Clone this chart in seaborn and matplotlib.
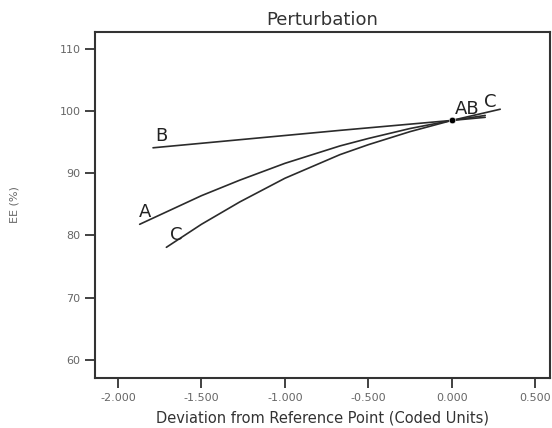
import numpy as np
import pandas as pd
import matplotlib
matplotlib.use("Agg")
import matplotlib.pyplot as plt
import seaborn as sns

# perturbation traces (coded units vs EE %)
a_x = [-1.87, -1.5, -1.27, -1.0, -0.67, -0.5, -0.25, 0.0, 0.2]
a_y = [81.8, 86.4, 88.9, 91.6, 94.4, 95.6, 97.2, 98.5, 99.3]
b_x = [-1.79, -1.27, -0.67, 0.0, 0.2]
b_y = [94.1, 95.4, 96.9, 98.5, 99.0]
c_x = [-1.71, -1.5, -1.27, -1.0, -0.67, -0.5, -0.25, 0.0, 0.29]
c_y = [78.1, 81.8, 85.4, 89.2, 93.0, 94.6, 96.7, 98.5, 100.3]
ref_x = [0.0]
ref_y = [98.5]

xticks = [-2.0, -1.5, -1.0, -0.5, 0.0, 0.5]
yticks = [60, 70, 80, 90, 100, 110]

df = pd.concat([
    pd.DataFrame({"x": a_x, "y": a_y, "factor": "A"}),
    pd.DataFrame({"x": b_x, "y": b_y, "factor": "B"}),
    pd.DataFrame({"x": c_x, "y": c_y, "factor": "C"}),
])

sns.set_style("ticks")
plt.rcParams['font.family'] = ['DejaVu Sans']

fig = plt.figure(figsize=(5.52, 4.28), dpi=100)
ax = fig.add_axes([0.172, 0.117, 0.824, 0.808])

sns.lineplot(data=df, x="x", y="y", units="factor", estimator=None, sort=False,
             color="#2b2b2b", linewidth=1.2, ax=ax)
sns.scatterplot(x=ref_x, y=ref_y, color="black", s=22, zorder=5, ax=ax)

# curve labels
ax.text(-1.74, 94.6, "B", fontsize=13, color="#222222", va="bottom", ha="center")
ax.text(-1.84, 82.3, "A", fontsize=13, color="#222222", va="bottom", ha="center")
ax.text(-1.65, 78.6, "C", fontsize=13, color="#222222", va="bottom", ha="center")
ax.text(0.09, 98.9, "AB", fontsize=13, color="#222222", va="bottom", ha="center")
ax.text(0.23, 100.0, "C", fontsize=13, color="#222222", va="bottom", ha="center")

ax.set_xlim(-2.138, 0.587)
ax.set_ylim(57.1, 112.7)
ax.set_xticks(xticks)
ax.set_xticklabels([f"{v:.3f}" for v in xticks])
ax.set_yticks(yticks)
ax.tick_params(axis="both", direction="out", length=7, width=1.3,
               labelsize=8, labelcolor="#666666", color="#333333")
for s in ax.spines.values():
    s.set_linewidth(1.5)
    s.set_color("#333333")

ax.set_title("Perturbation", fontsize=13, color="#333333", pad=5)
ax.set_xlabel("Deviation from Reference Point (Coded Units)", fontsize=10.5,
              color="#333333", labelpad=6)
ax.set_ylabel("EE (%)", fontsize=8, color="#666666")
ax.yaxis.set_label_coords(-0.165, 0.5)

fig.savefig("out.png", dpi=100)
